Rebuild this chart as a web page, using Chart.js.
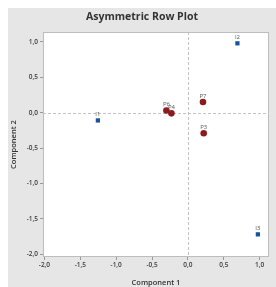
<!DOCTYPE html>
<html lang="en">
<head>
<meta charset="UTF-8">
<title>Asymmetric Row Plot</title>
<script src="https://cdn.jsdelivr.net/npm/chart.js"></script>
<style>
  html, body { margin: 0; padding: 0; background: #fff; }
  #wrap { width: 276px; height: 287px; }
</style>
</head>
<body>
<div id="wrap"><canvas id="chart" width="276" height="287"></canvas></div>
<script>
// row points (P) and column points (I)
const rowLabels = ['P7', 'P3', 'P6', 'P4'];
const rowX = [0.21, 0.22, -0.30, -0.23];
const rowY = [0.15, -0.29, 0.03, -0.01];

const colLabels = ['I1', 'I2', 'I3'];
const colX = [-1.255, 0.69, 0.975];
const colY = [-0.11, 0.98, -1.72];

const xTicks = [-2.0, -1.5, -1.0, -0.5, 0.0, 0.5, 1.0];
const yTicks = [1.0, 0.5, 0.0, -0.5, -1.0, -1.5, -2.0];

const chartTitle = 'Asymmetric Row Plot';

const fmt = v => v.toFixed(1).replace('.', ',');

const toPts = (xs, ys) => xs.map((x, i) => ({ x: x, y: ys[i] }));

// frame, title, plot border, zero lines and point labels
const decor = {
    id: 'decor',
    beforeDraw(chart) {
        const c = chart.ctx;
        c.save();
        c.fillStyle = '#e6e6e6';
        c.fillRect(8, 8, chart.width - 8, chart.height - 8);
        const a = chart.chartArea;
        c.fillStyle = '#fff';
        c.fillRect(a.left, a.top, a.right - a.left, a.bottom - a.top);
        c.font = 'bold 10.5px "Open Sans", sans-serif';
        c.fillStyle = '#333';
        c.textAlign = 'center';
        c.textBaseline = 'middle';
        c.fillText(chartTitle, 142, 17);
        c.restore();
    },
    beforeDatasetsDraw(chart) {
        const c = chart.ctx;
        const a = chart.chartArea;
        const xs = chart.scales.x, ys = chart.scales.y;
        c.save();
        c.strokeStyle = '#c4c4c4';
        c.lineWidth = 1;
        c.setLineDash([3, 2]);
        const x0 = Math.round(xs.getPixelForValue(0)) + 0.5;
        const y0 = Math.round(ys.getPixelForValue(0)) + 0.5;
        c.beginPath();
        c.moveTo(x0, a.top); c.lineTo(x0, a.bottom);
        c.moveTo(a.left, y0); c.lineTo(a.right, y0);
        c.stroke();
        c.setLineDash([]);
        c.strokeStyle = '#bdbdbd';
        c.strokeRect(a.left + 0.5, a.top + 0.5, a.right - a.left - 1, a.bottom - a.top - 1);
        c.restore();
    },
    afterDatasetsDraw(chart) {
        const c = chart.ctx;
        c.save();
        c.font = '6px "Open Sans", sans-serif';
        c.fillStyle = '#555';
        c.textAlign = 'center';
        c.textBaseline = 'bottom';
        chart.data.datasets.forEach((ds, di) => {
            const meta = chart.getDatasetMeta(di);
            meta.data.forEach((el, i) => {
                c.fillText(ds.labels[i], el.x, el.y - 3);
            });
        });
        c.restore();
    }
};

new Chart(document.getElementById('chart'), {
    type: 'scatter',
    data: {
        datasets: [{
            label: 'Rows',
            labels: rowLabels,
            data: toPts(rowX, rowY),
            pointStyle: 'circle',
            pointRadius: 3.3,
            backgroundColor: '#8e1b1b',
            borderColor: '#8e1b1b',
            borderWidth: 0
        }, {
            label: 'Columns',
            labels: colLabels,
            data: toPts(colX, colY),
            pointStyle: 'rect',
            pointRadius: 3,
            backgroundColor: '#1455a0',
            borderColor: '#1455a0',
            borderWidth: 0
        }]
    },
    options: {
        responsive: false,
        animation: false,
        devicePixelRatio: 1,
        layout: { padding: { left: 0, right: 7, top: 32, bottom: 0 } },
        plugins: {
            legend: { display: false },
            tooltip: { enabled: false },
            title: { display: false }
        },
        scales: {
            x: {
                type: 'linear',
                min: -2.02,
                max: 1.13,
                afterBuildTicks: s => { s.ticks = xTicks.map(v => ({ value: v })); },
                afterFit: s => { s.height = 30; },
                grid: { display: true, drawOnChartArea: false, tickLength: 3, tickColor: '#999' },
                border: { display: false },
                ticks: {
                    callback: v => fmt(v),
                    color: '#3a3a3a',
                    padding: 1,
                    maxRotation: 0,
                    font: { family: '"Open Sans", sans-serif', size: 6.5, weight: '600' }
                },
                title: {
                    display: true,
                    text: 'Component 1',
                    color: '#333',
                    padding: { top: 2, bottom: 0 },
                    font: { family: '"Open Sans", sans-serif', size: 7.5, weight: '600' }
                }
            },
            y: {
                type: 'linear',
                min: -2.04,
                max: 1.14,
                afterBuildTicks: s => { s.ticks = yTicks.map(v => ({ value: v })); },
                afterFit: s => { s.width = 43; },
                grid: { display: true, drawOnChartArea: false, tickLength: 3, tickColor: '#999' },
                border: { display: false },
                ticks: {
                    callback: v => fmt(v),
                    color: '#3a3a3a',
                    padding: 2,
                    font: { family: '"Open Sans", sans-serif', size: 6.5, weight: '600' }
                },
                title: {
                    display: true,
                    text: 'Component 2',
                    color: '#333',
                    padding: { top: 9, bottom: 0 },
                    font: { family: '"Open Sans", sans-serif', size: 7.5, weight: '600' }
                }
            }
        }
    },
    plugins: [decor]
});
</script>
</body>
</html>
